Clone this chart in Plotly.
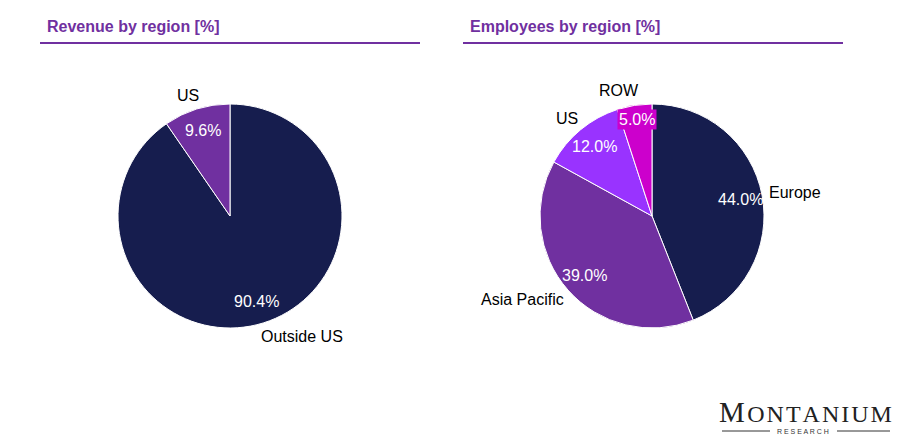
import math
import plotly.graph_objects as go

rev_labels = ["Outside US", "US"]
rev_values = [90.4, 9.6]
rev_colors = ["#161D4E", "#7030A0"]

emp_labels = ["Europe", "Asia Pacific", "US", "ROW"]
emp_values = [44.0, 39.0, 12.0, 5.0]
emp_colors = ["#161D4E", "#7030A0", "#9933FF", "#CC00CC"]

titles = ["Revenue by region [%]", "Employees by region [%]"]

W, H = 898, 437
FONT = "Liberation Sans, Arial, sans-serif"
PURPLE = "#7030A0"
PCT_DIST = 0.8
LABEL_DIST = 1.13
LABEL_PAD = 9

dom1 = dict(x=[118 / W, 342 / W], y=[109 / H, 333 / H])
dom2 = dict(x=[540 / W, 764 / W], y=[109 / H, 333 / H])

fig = go.Figure()


def add_pie(labels, values, colors, dom, boxed=()):
    fig.add_trace(go.Pie(
        labels=labels, values=values, domain=dom, sort=False,
        direction="clockwise", rotation=0,
        marker=dict(colors=colors, line=dict(color="white", width=1)),
        textinfo="none", showlegend=False, hoverinfo="label+percent",
    ))
    r_px = (dom["x"][1] - dom["x"][0]) * W / 2
    cxp = (dom["x"][0] + dom["x"][1]) / 2
    cyp = (dom["y"][0] + dom["y"][1]) / 2
    total = sum(values)
    cum = 0.0
    for lab, val, col in zip(labels, values, colors):
        mid = (cum + val / 2) / total
        cum += val
        th = mid * 2 * math.pi
        s, c = math.sin(th), math.cos(th)
        # percentage label inside slice
        d = PCT_DIST * r_px * (1.09 if lab in boxed else 1.0)
        fig.add_annotation(
            x=cxp + d * s / W, y=cyp + d * c / H, xref="paper", yref="paper",
            xanchor="center", yanchor="middle",
            text=f"{val:.1f}%", showarrow=False,
            font=dict(color="white", size=16, family=FONT),
            bgcolor=col if lab in boxed else None, borderpad=1,
        )
        # category label outside
        d = LABEL_DIST * r_px
        if s > 0.05:
            xa, xs = "left", -LABEL_PAD
        elif s < -0.05:
            xa, xs = "right", LABEL_PAD
        else:
            xa, xs = "center", 0
        fig.add_annotation(
            x=cxp + d * s / W, y=cyp + d * c / H, xref="paper", yref="paper",
            text=lab, showarrow=False, xanchor=xa, yanchor="middle", xshift=xs,
            font=dict(color="black", size=16, family=FONT),
        )


add_pie(rev_labels, rev_values, rev_colors, dom1)
add_pie(emp_labels, emp_values, emp_colors, dom2, boxed=("ROW",))

# Titles and underlines
title_pos = [(45, 40, 420), (468, 463, 843)]
for t, (tx, lx0, lx1) in zip(titles, title_pos):
    fig.add_annotation(x=tx / W, y=1 - 26 / H, xref="paper", yref="paper",
                       xanchor="left", yanchor="middle", showarrow=False,
                       text=f"<b>{t}</b>",
                       font=dict(color=PURPLE, size=16, family=FONT))
    fig.add_shape(type="line", xref="paper", yref="paper",
                  x0=lx0 / W, x1=lx1 / W, y0=1 - 43 / H, y1=1 - 43 / H,
                  line=dict(color=PURPLE, width=2))

# Logo
hs = "\u200a"
fig.add_annotation(x=805 / W, y=1 - 412 / H, xref="paper", yref="paper",
                   xanchor="center", yanchor="middle", showarrow=False,
                   text="M" + hs + "<span style='font-size:24px'>" + hs.join("ONTANIUM") + "</span>",
                   font=dict(color="#222222", size=29, family="Liberation Serif, serif"))
fig.add_annotation(x=803 / W, y=1 - 431 / H, xref="paper", yref="paper",
                   xanchor="center", yanchor="middle", showarrow=False,
                   text="R E S E A R C H",
                   font=dict(color="#333333", size=7, family="Liberation Sans, sans-serif"))
for x0, x1 in [(722, 770), (837, 890)]:
    fig.add_shape(type="line", xref="paper", yref="paper",
                  x0=x0 / W, x1=x1 / W, y0=1 - 431 / H, y1=1 - 431 / H,
                  line=dict(color="#333333", width=1))

fig.update_layout(
    width=W, height=H, margin=dict(l=0, r=0, t=0, b=0),
    paper_bgcolor="white", plot_bgcolor="white",
    font=dict(family=FONT),
)

fig.write_html("out.html")
